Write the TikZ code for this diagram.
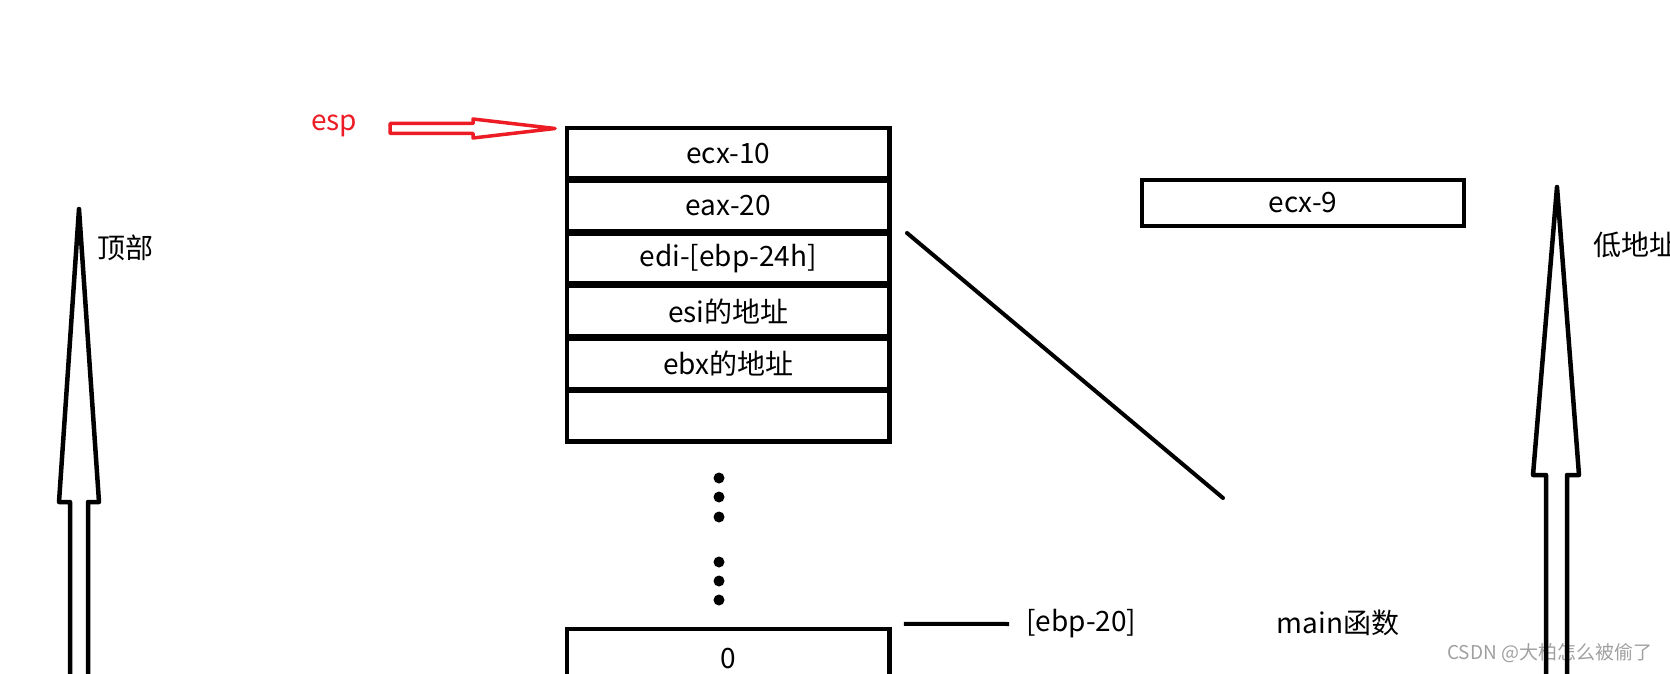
\documentclass[tikz,border=0pt]{standalone}
\usepackage{fontspec}
\setmainfont{Noto Sans CJK SC}
\definecolor{paintred}{RGB}{237,28,36}
\definecolor{markgray}{RGB}{160,160,160}
\tikzset{
  cell/.style={draw,line width=4.5pt,minimum width=322.5pt,minimum height=50.45pt,inner sep=0pt,font=\fontsize{28}{32}\selectfont},
  lbl/.style={inner sep=0pt,font=\fontsize{28}{32}\selectfont},
  bigarrow/.style={line width=4.5pt,line join=round}
}
\begin{document}
\begin{tikzpicture}[x=1pt,y=-1pt]
\useasboundingbox (0,0) rectangle (1670,674);

\node[lbl,text=paintred] (esp) at (334,126) {esp};
\draw[paintred,line width=3.5pt,line join=round] (390,123.5)--(473,123.5)--(473,119)--(555,128.5)--(473,138)--(473,133.5)--(390,133.5)--cycle;

\foreach \t [count=\i] in {{ecx-10},{eax-20},{edi-[ebp-24h]},{esi的地址},{ebx的地址},{}}
{
\node[cell] (c\i) at (728.3,{153.2+(\i-1)*52.65}) {\t};
}

\foreach \y in {478,497,517,562,581,600}
{
\fill (719,\y) circle (5.5pt);
}

\node[cell,minimum height=60pt] (zero) at (728.3,659) {0};

\node[cell,minimum width=322pt,minimum height=46pt] (ecx9) at (1303,203) {ecx-9};

\coordinate (d1) at (907,233);
\coordinate (d2) at (1223,498);
\draw[line width=4pt,line cap=round] (d1)--(d2);

\node[lbl,anchor=west] (ebp) at (1026,624) {[ebp-20]};
\draw[line width=4pt] ([xshift=12pt,yshift=3pt]zero.north east)--([xshift=-17pt]ebp.west);

\node[lbl] (mainfn) at (1338,623) {main函数};

\node[lbl] (top) at (125,248) {顶部};
\node[lbl,anchor=west] (low) at (1593,245) {低地址};

\node[inner sep=0pt,anchor=west,text=markgray,font=\fontsize{19}{23}\selectfont] (mark) at (1447,653) {CSDN @大柏怎么被偷了};

\draw[bigarrow] (70,690)--(70,502)--(59,502)--(79,209)--(99,502)--(88,502)--(88,690);
\draw[bigarrow] (1546,690)--(1546,475)--(1533,475)--(1557,187)--(1579,475)--(1567,475)--(1567,690);

\end{tikzpicture}
\end{document}
